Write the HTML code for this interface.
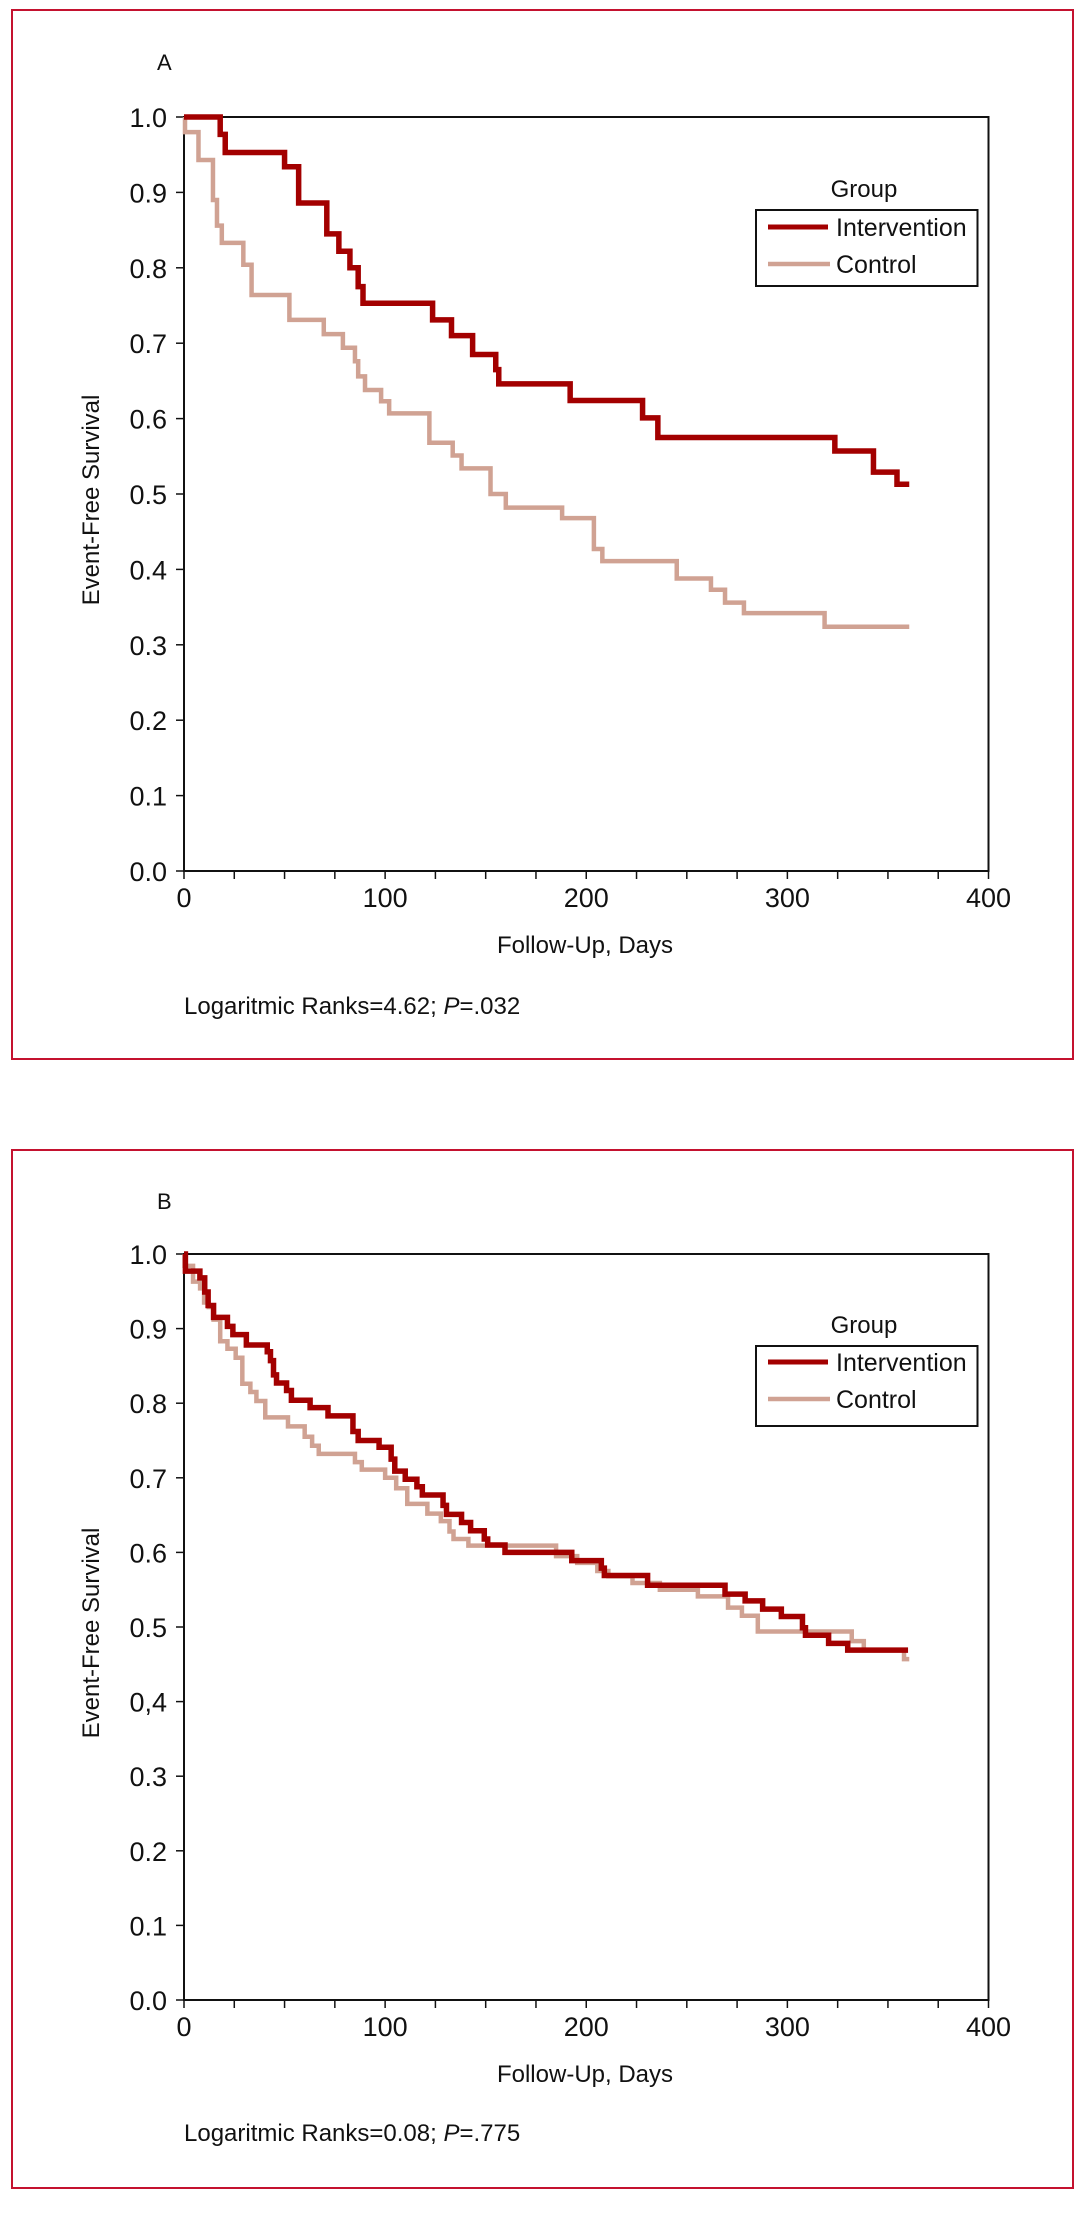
<!DOCTYPE html>
<html><head><meta charset="utf-8"><style>
html,body{margin:0;padding:0;background:#fff;}
svg{display:block;}
text{font-family:"Liberation Sans Narrow","Liberation Sans",sans-serif;fill:#111;}
</style></head><body>
<svg id="fig" width="1078" height="2233" viewBox="0 0 1078 2233" xmlns="http://www.w3.org/2000/svg"></svg>
<script>
// Panel A data
const aIntDays = [0,18,20.5,50,57,71,77,82.5,86.6,89,123.6,133,143.5,155,156.5,192,228,235.6,323.6,342.8,354.5,360.6];
const aIntSurv = [1.0,0.977,0.953,0.934,0.886,0.845,0.822,0.80,0.775,0.753,0.731,0.71,0.685,0.665,0.646,0.624,0.601,0.575,0.557,0.529,0.513,0.513];
const aCtlDays = [0,0.5,7.2,14.4,16.4,18.8,29.5,33.6,52.4,69.5,79,85,86.6,90,98,102,122,133.6,138,152.4,160,188,203.8,208,245,262,269,278.4,318.5,360.6];
const aCtlSurv = [1.0,0.98,0.943,0.89,0.856,0.833,0.804,0.764,0.731,0.712,0.694,0.676,0.656,0.638,0.623,0.607,0.568,0.551,0.534,0.5,0.482,0.468,0.427,0.411,0.388,0.373,0.356,0.342,0.324,0.324];
// Panel B data
const bIntDays = [0,0.7,7.9,10.3,12,14.7,21.6,24.3,31,41.4,43,44.5,46,51,53.4,62.7,71.6,84,86.6,97,103,104.8,110,115.8,118.5,128.8,130.5,138,142.5,149.3,151,159.6,192.8,207.5,209,230.5,269,279,287.7,297,307.5,309,320.5,330,360];
const bIntSurv = [1.0,0.977,0.968,0.949,0.931,0.915,0.903,0.892,0.878,0.869,0.857,0.838,0.827,0.817,0.804,0.794,0.783,0.762,0.75,0.741,0.725,0.709,0.698,0.688,0.677,0.663,0.651,0.64,0.629,0.618,0.61,0.6,0.589,0.579,0.569,0.556,0.544,0.535,0.524,0.514,0.499,0.489,0.478,0.469,0.469];
const bCtlDays = [0,0.3,4.5,8,10,12.3,14.7,18,21.6,25.7,29,33,36,40.4,51.7,60,63.7,67,85,88.4,100,105.5,111,121,127.7,132,134,141.4,185,195.5,205.5,211,223,236.6,255.5,270.5,277.4,285.3,332,338,358,360.6];
const bCtlSurv = [1.0,0.984,0.963,0.954,0.935,0.929,0.912,0.883,0.873,0.861,0.826,0.815,0.803,0.781,0.769,0.755,0.743,0.732,0.721,0.711,0.7,0.686,0.665,0.652,0.642,0.628,0.618,0.609,0.595,0.586,0.575,0.568,0.559,0.55,0.541,0.526,0.515,0.494,0.481,0.469,0.457,0.457];
const yTicks = ["0.0","0.1","0.2","0.3","0.4","0.5","0.6","0.7","0.8","0.9","1.0"];
const yTicksB = ["0.0","0.1","0.2","0.3","0,4","0.5","0.6","0.7","0.8","0.9","1.0"];
const xTicks = [0,100,200,300,400];

const NS="http://www.w3.org/2000/svg";
const svg=document.getElementById('fig');
function mk(tag,attrs,parent){const e=document.createElementNS(NS,tag);for(const k in attrs)e.setAttribute(k,attrs[k]);(parent||svg).appendChild(e);return e;}

function panel(cfg){
  const g=mk('g',{});
  
  
  const L=184,R=988.5,T=cfg.top,B=cfg.bottom;
  const xs=d=>L+(R-L)*d/400, ys=v=>B-(B-T)*v;
  const frame=mk('rect',{x:cfg.bx,y:cfg.by,width:cfg.bw,height:cfg.bh,fill:'none',stroke:'#c4122f','stroke-width':2},g);
  
  
  const lab=mk('text',{x:157,y:cfg.labelY,'font-size':22},g); lab.textContent=cfg.id.toUpperCase();
  
  
  // ticks
  for(let i=0;i<=16;i++){const x=xs(i*25);
    const t=mk('line',{x1:x,x2:x,y1:B,y2:B+8,stroke:'#111','stroke-width':1.5},g);
    
    }
  xTicks.forEach(v=>{const t=mk('text',{x:xs(v),y:B+36,'font-size':27,'text-anchor':'middle'},g);t.textContent=v;
    
    });
  cfg.yl.forEach((s,i)=>{const v=i/10;
    const t=mk('line',{x1:L-8,x2:L,y1:ys(v),y2:ys(v),stroke:'#111','stroke-width':1.5},g);
    
    
    const tx=mk('text',{x:167,y:ys(v)+10,'font-size':27,'text-anchor':'end'},g);tx.textContent=s;
    
    });
  const plot=mk('rect',{x:L,y:T,width:R-L,height:B-T,fill:'none',stroke:'#111','stroke-width':2},g);
  
  
  function step(days,surv,color,w,name){
    let d='M'+xs(days[0])+' '+ys(surv[0]);
    for(let i=1;i<days.length;i++){d+=' H'+xs(days[i])+' V'+ys(surv[i]);}
    const p=mk('path',{d:d,fill:'none',stroke:color,'stroke-width':w},g);
    
    
  }
  step(cfg.cd,cfg.cs,'#d0a293',4.5,'control-curve');
  step(cfg.id_,cfg.is,'#a30000',5.5,'intervention-curve');
  // legend
  const lg=mk('g',{},g);
  
  
  const gt=mk('text',{x:864,y:cfg.lgY+8,'font-size':24,'text-anchor':'middle'},lg);gt.textContent='Group';
  
  
  mk('rect',{x:756,y:cfg.lbT,width:221.5,height:cfg.lbH,fill:'#fff',stroke:'#111','stroke-width':2},lg);
  const li=mk('line',{x1:768,x2:828,y1:cfg.li,y2:cfg.li,stroke:'#a30000','stroke-width':5},lg);
  
  
  const lt1=mk('text',{x:836,y:cfg.li+9,'font-size':25},lg);lt1.textContent='Intervention';
  
  
  const lc=mk('line',{x1:768,x2:830,y1:cfg.lc,y2:cfg.lc,stroke:'#d0a293','stroke-width':4.5},lg);
  
  
  const lt2=mk('text',{x:836,y:cfg.lc+9,'font-size':25},lg);lt2.textContent='Control';
  
  
  const yt=mk('text',{x:0,y:0,'font-size':24,'text-anchor':'middle',transform:'translate(99 '+((T+B)/2+6)+') rotate(-90)'},g);yt.textContent='Event-Free Survival';
  
  
  const xt=mk('text',{x:585,y:cfg.xtY,'font-size':24,'text-anchor':'middle'},g);xt.textContent='Follow-Up, Days';
  
  
  const fn=mk('text',{x:184,y:cfg.fnY,'font-size':24},g);
  
  
  const t1=mk('tspan',{},fn);t1.textContent='Logaritmic Ranks='+cfg.lr+'; ';
  const t2=mk('tspan',{'font-style':'italic'},fn);t2.textContent='P';
  const t3=mk('tspan',{},fn);t3.textContent='='+cfg.p;
}
panel({id:'a',top:117,bottom:871,bx:12,by:10,bw:1061,bh:1049,labelY:70,yl:yTicks,
  id_:aIntDays,is:aIntSurv,cd:aCtlDays,cs:aCtlSurv,lgY:189,lbT:210,lbH:76,li:227,lc:264,xtY:953,fnY:1014,lr:'4.62',p:'.032'});
panel({id:'b',top:1254,bottom:2000,bx:12,by:1150,bw:1061,bh:1038,labelY:1209,yl:yTicksB,
  id_:bIntDays,is:bIntSurv,cd:bCtlDays,cs:bCtlSurv,lgY:1325,lbT:1346,lbH:80,li:1362,lc:1399,xtY:2082,fnY:2141,lr:'0.08',p:'.775'});
</script>
</body></html>
